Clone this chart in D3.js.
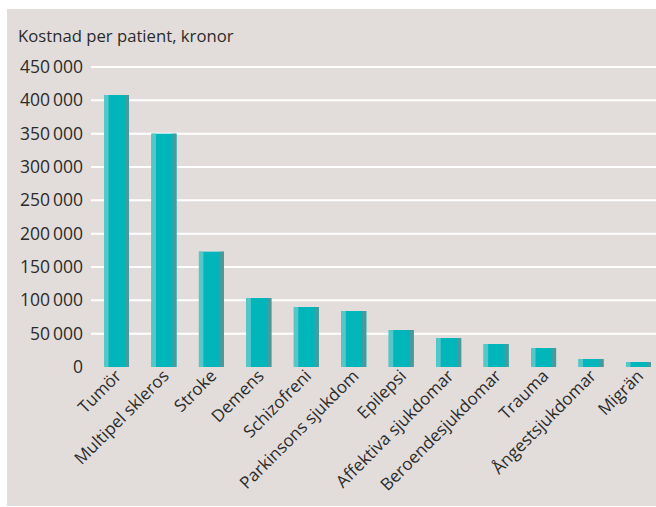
<!DOCTYPE html>
<html>
<head>
<meta charset="utf-8">
<script src="https://cdn.jsdelivr.net/npm/d3@7"></script>
<style>
  body { margin: 0; background: #fff; }
  text { font-family: "Open Sans", sans-serif; fill: #2b2b2b; }
</style>
</head>
<body>
<div id="chart"></div>
<script>
// data
var categories = ["Tumör", "Multipel skleros", "Stroke", "Demens", "Schizofreni",
    "Parkinsons sjukdom", "Epilepsi", "Affektiva sjukdomar", "Beroendesjukdomar",
    "Trauma", "Ångestsjukdomar", "Migrän"];
var costs = [408000, 350000, 173000, 103500, 90000, 84000, 55500, 43500, 34500, 28500, 12000, 7500];
var yTicks = [0, 50000, 100000, 150000, 200000, 250000, 300000, 350000, 400000, 450000];
var yTitle = "Kostnad per patient, kronor";

var width = 656, height = 507;

var svg = d3.select("#chart").append("svg")
    .attr("width", width)
    .attr("height", height);

// panel background
svg.append("rect")
    .attr("x", 7).attr("y", 9)
    .attr("width", width - 7).attr("height", 497)
    .attr("fill", "#e2dddb");

var scalex = d3.scaleBand()
    .domain(categories)
    .range([91, 664])
    .paddingInner(0.473)
    .paddingOuter(0.274);

var scaley = d3.scaleLinear()
    .domain([0, 450000])
    .range([367, 67]);

var locale = d3.formatLocale({ decimal: ",", thousands: "\u2009", grouping: [3], currency: ["", ""] });
var fmt = locale.format(",");

// grid lines
svg.append("g")
    .selectAll("line")
    .data(yTicks.filter(function (d) { return d > 0; }))
    .enter().append("line")
    .attr("x1", 91).attr("x2", width)
    .attr("y1", function (d) { return scaley(d); })
    .attr("y2", function (d) { return scaley(d); })
    .attr("stroke", "#fff")
    .attr("stroke-width", 2);

// y axis labels
svg.append("g")
    .selectAll("text")
    .data(yTicks)
    .enter().append("text")
    .attr("x", 83)
    .attr("y", function (d) { return scaley(d); })
    .attr("dy", "0.35em")
    .attr("text-anchor", "end")
    .style("font-size", "17.5px")
    .text(function (d) { return fmt(d); });

svg.append("text")
    .attr("x", 18).attr("y", 42)
    .style("font-size", "16.7px")
    .text(yTitle);

// bars: light left stripe, main body, dark right stripe
var bw = scalex.bandwidth();
var bars = svg.append("g").selectAll("g")
    .data(costs)
    .enter().append("g")
    .attr("transform", function (d, i) { return "translate(" + scalex(categories[i]) + ",0)"; });

bars.append("rect")
    .attr("x", 0)
    .attr("y", function (d) { return scaley(d); })
    .attr("width", bw)
    .attr("height", function (d) { return scaley(0) - scaley(d); })
    .attr("fill", "#00b6ba");

bars.append("rect")
    .attr("x", 0)
    .attr("y", function (d) { return scaley(d); })
    .attr("width", 4.5)
    .attr("height", function (d) { return scaley(0) - scaley(d); })
    .attr("fill", "#55c7c9");

bars.append("rect")
    .attr("x", bw - 4)
    .attr("y", function (d) { return scaley(d); })
    .attr("width", 4)
    .attr("height", function (d) { return scaley(0) - scaley(d); })
    .attr("fill", "#4a9a9c");

// x labels, rotated
svg.append("g")
    .selectAll("text")
    .data(categories)
    .enter().append("text")
    .attr("text-anchor", "end")
    .style("font-size", "17px")
    .attr("transform", function (d) {
        var cx = scalex(d) + bw / 2 + 6;
        return "translate(" + cx + ",377) rotate(-45)";
    })
    .text(function (d) { return d; });
</script>
</body>
</html>
